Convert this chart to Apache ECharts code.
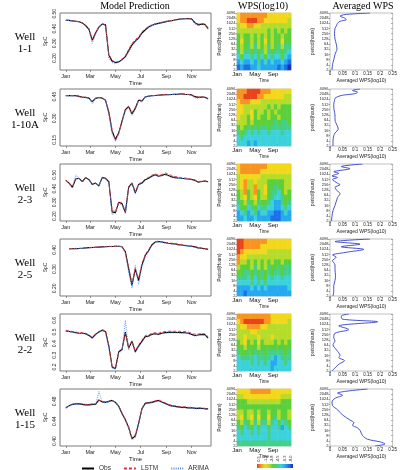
<!DOCTYPE html>
<html>
<head>
<meta charset="utf-8">
<script src="https://cdn.jsdelivr.net/npm/echarts@6/dist/echarts.min.js"></script>
<style>html,body{margin:0;padding:0;background:#fff}#main{width:400px;height:470px}</style>
</head>
<body>
<div id="main"></div>
<script>
var wells = ['1-1', '1-10A', '2-3', '2-5', '2-2', '1-15'];
// day of year for the SpC samples
var days = [0,8,16,24,32,40,48,56,64,72,80,88,96,104,112,120,128,136,144,152,160,168,176,184,192,200,208,216,224,232,240,248,256,264,272,280,288,296,304,312,320,328,336,344];
var monthTicks = [0, 59, 120, 181, 243, 304];
var monthNames = ['Jan', 'Mar', 'May', 'Jul', 'Sep', 'Nov'];

var obs = [
  [.456,.455,.452,.449,.446,.438,.42,.395,.32,.37,.41,.43,.425,.22,.18,.17,.175,.19,.21,.25,.29,.315,.335,.37,.39,.41,.42,.43,.435,.44,.445,.45,.453,.458,.462,.464,.466,.467,.465,.44,.425,.43,.428,.40],
  [.457,.457,.456,.457,.452,.446,.445,.44,.415,.438,.444,.44,.425,.34,.21,.155,.2,.28,.36,.38,.33,.37,.425,.42,.448,.453,.456,.458,.46,.462,.463,.464,.465,.466,.466,.47,.466,.465,.462,.45,.445,.448,.446,.435],
  [.46,.44,.41,.47,.475,.45,.48,.465,.43,.44,.42,.48,.475,.45,.23,.225,.3,.29,.225,.41,.44,.37,.43,.44,.465,.475,.49,.5,.49,.495,.505,.495,.485,.48,.477,.475,.472,.47,.466,.46,.447,.452,.455,.45],
  [null,.405,.405,.406,.407,.408,.41,.411,.412,.413,.414,.415,.416,.417,.417,.418,.418,.416,.39,.3,.215,.3,.24,.32,.37,.395,.425,.44,.443,.44,.437,.434,.432,.43,.427,.425,.422,.42,.418,.415,.41,.408,.405,.402],
  [.51,.505,.5,.495,.49,.49,.485,.47,.45,.48,.5,.515,.505,.38,.2,.185,.33,.35,.5,.36,.42,.33,.38,.42,.46,.465,.48,.485,.48,.49,.495,.497,.497,.497,.496,.495,.494,.49,.48,.47,.475,.48,.478,.45],
  [.467,.471,.474,.475,.475,.474,.473,.473,.474,.474,.483,.479,.478,.48,.482,.478,.47,.455,.443,.427,.405,.41,.435,.465,.476,.477,.478,.48,.482,.479,.476,.473,.471,.47,.469,.468,.468,.467,.467,.466,.466,.466,.465,.465]
];
var lstm = [
  [.458,.456,.453,.45,.447,.44,.423,.40,.33,.372,.412,.432,.427,.23,.185,.172,.178,.195,.218,.26,.3,.325,.345,.378,.398,.415,.425,.433,.438,.443,.448,.452,.455,.46,.463,.465,.467,.468,.466,.445,.43,.433,.43,.405],
  [.458,.458,.457,.458,.453,.447,.446,.441,.418,.439,.445,.441,.427,.35,.22,.145,.195,.285,.365,.385,.34,.375,.428,.424,.45,.455,.457,.459,.461,.463,.464,.465,.466,.467,.467,.468,.467,.466,.463,.452,.447,.449,.447,.437],
  [.462,.442,.415,.472,.477,.452,.482,.467,.433,.442,.423,.482,.477,.452,.24,.232,.305,.295,.235,.415,.442,.375,.435,.445,.47,.482,.497,.508,.498,.503,.515,.505,.495,.488,.484,.48,.477,.474,.469,.463,.45,.454,.457,.452],
  [null,.406,.406,.407,.408,.409,.411,.412,.413,.414,.415,.416,.417,.418,.418,.419,.419,.417,.385,.31,.225,.305,.25,.33,.375,.4,.428,.442,.445,.442,.439,.436,.434,.432,.429,.427,.424,.422,.42,.417,.412,.41,.407,.404],
  [.515,.51,.505,.5,.495,.495,.49,.475,.455,.485,.505,.52,.51,.39,.205,.19,.335,.355,.49,.37,.425,.34,.39,.43,.47,.475,.49,.495,.49,.5,.505,.507,.507,.507,.506,.505,.504,.5,.49,.48,.483,.487,.485,.46],
  [.466,.471,.474,.476,.476,.475,.474,.474,.475,.475,.482,.48,.479,.48,.482,.479,.471,.457,.444,.429,.407,.413,.437,.466,.477,.478,.479,.481,.483,.48,.477,.474,.472,.471,.47,.469,.469,.468,.468,.467,.467,.467,.466,.466]
];
var arima = [
  [.455,.454,.451,.447,.444,.435,.415,.39,.30,.36,.405,.428,.42,.2,.17,.165,.17,.185,.205,.24,.28,.31,.33,.365,.385,.405,.418,.428,.433,.439,.444,.449,.452,.457,.461,.463,.465,.466,.463,.43,.42,.427,.425,.395],
  [.456,.456,.455,.456,.45,.444,.443,.438,.40,.436,.442,.438,.422,.33,.19,.14,.19,.27,.35,.375,.32,.36,.42,.41,.446,.452,.455,.457,.459,.461,.462,.463,.464,.465,.465,.472,.465,.464,.46,.44,.44,.446,.444,.43],
  [.458,.436,.40,.5,.47,.445,.476,.46,.425,.436,.415,.476,.47,.44,.21,.22,.295,.28,.22,.4,.435,.36,.425,.435,.46,.472,.487,.498,.488,.492,.5,.492,.482,.478,.475,.473,.47,.468,.464,.458,.444,.45,.453,.448],
  [null,.404,.404,.405,.406,.407,.409,.41,.411,.412,.413,.414,.415,.416,.416,.417,.417,.414,.38,.28,.2,.32,.22,.31,.36,.39,.42,.438,.441,.438,.435,.432,.43,.428,.425,.423,.42,.418,.416,.413,.408,.406,.403,.4],
  [.508,.503,.498,.493,.487,.487,.482,.465,.44,.475,.497,.51,.5,.36,.19,.18,.32,.34,.6,.35,.41,.32,.37,.41,.455,.46,.476,.481,.476,.486,.491,.493,.493,.493,.492,.491,.49,.486,.475,.465,.47,.476,.474,.44],
  [.468,.47,.473,.474,.474,.473,.472,.472,.473,.473,.5,.478,.477,.479,.481,.477,.469,.454,.441,.425,.402,.407,.433,.463,.475,.476,.477,.479,.481,.478,.475,.472,.47,.469,.468,.467,.467,.466,.466,.465,.465,.465,.464,.464]
];
var spcRange = [[0.12, 0.505], [0.108, 0.503], [0.164, 0.579], [0.16, 0.456], [0.165, 0.655], [0.39, 0.505]];
var spcTicks = [[0.2, 0.3, 0.4, 0.5], [0.15, 0.3, 0.45], [0.2, 0.3, 0.4, 0.5], [0.2, 0.3, 0.4], [0.2, 0.3, 0.4, 0.5, 0.6], [0.40, 0.44, 0.48]];
var spcDecimals = [2, 2, 2, 2, 1, 2];

// wavelet power, colour level 0 (-8.0) .. 9 (0.5); rows listed from period 4096 down to 2
var heatCols = [0,1,2,3,4,5,6,7,8,9,10,11,12,13,14,15];
var heatRows = [0,1,2,3,4,5,6,7,8,9,10];
var wps = [
  [[7,8,8,8,8,8,8,8,8,7,7,7,7,7,7,7],[7,8,8,9,9,9,8,8,7,7,7,7,7,7,7,6],[6,7,7,8,8,7,7,6,6,6,6,6,6,6,6,6],[6,6,6,6,6,6,6,6,6,5,6,5,6,5,6,5],[5,6,5,5,6,5,6,5,6,5,6,5,5,6,5,5],[5,7,5,5,6,5,6,5,7,5,6,5,5,7,5,5],[5,6,5,4,6,4,6,5,6,4,6,5,4,6,4,4],[4,6,4,4,5,4,5,4,6,4,5,4,4,5,4,3],[3,5,3,3,4,3,5,3,5,3,4,3,3,5,3,2],[2,3,2,2,3,2,4,2,3,2,3,2,2,3,2,1],[1,2,1,1,2,2,3,2,2,2,2,2,1,2,1,0]],
  [[8,8,8,9,9,9,9,8,8,8,7,7,7,7,7,7],[8,8,9,9,9,9,8,8,7,7,7,7,7,7,6,6],[7,8,8,8,7,7,7,6,6,6,6,6,6,6,6,6],[7,7,6,6,6,6,6,6,6,5,6,5,6,5,5,5],[7,7,6,6,7,5,6,6,5,6,5,6,5,5,5,5],[7,6,6,5,7,5,6,5,5,6,5,5,6,5,5,5],[6,6,6,5,6,5,5,5,5,5,5,4,5,4,4,5],[5,6,5,4,5,4,5,4,4,5,4,4,4,4,4,4],[4,5,4,3,4,3,4,3,3,4,3,3,3,4,3,3],[3,4,3,3,3,3,3,3,3,3,3,3,3,3,3,3],[3,3,3,2,3,2,3,3,3,3,3,3,3,3,3,3]],
  [[7,8,8,8,8,8,8,8,8,7,7,7,7,7,7,7],[7,8,8,8,8,8,8,7,7,7,7,7,7,7,7,7],[6,7,7,7,7,7,7,6,6,6,6,6,6,6,6,6],[6,7,8,6,6,7,6,6,6,5,5,5,5,5,6,6],[6,7,8,6,6,8,6,6,7,5,5,4,5,5,6,6],[5,6,8,5,6,8,5,6,7,5,4,4,3,5,6,5],[5,6,7,5,6,7,5,6,6,5,4,3,3,4,5,5],[4,5,6,4,5,6,4,5,5,4,3,2,2,4,5,4],[3,5,5,3,4,5,3,4,4,3,3,2,2,3,4,3],[2,3,4,2,3,4,2,3,3,2,2,1,1,2,3,2],[2,2,3,2,2,3,2,2,2,2,1,1,1,2,2,2]],
  [[9,9,8,8,8,8,8,8,8,7,7,7,7,7,7,7],[9,9,8,8,8,8,8,7,7,7,7,7,7,7,7,7],[9,8,7,7,7,7,7,7,7,6,6,6,6,6,6,6],[8,7,7,6,6,6,6,6,6,6,6,6,6,6,6,6],[8,6,6,5,6,5,6,5,6,5,6,5,5,6,5,5],[6,5,5,5,6,4,6,5,6,4,5,5,4,5,4,4],[5,5,4,4,5,4,5,4,5,4,5,4,4,5,4,4],[4,4,4,3,5,3,5,4,5,3,4,3,3,4,3,3],[3,3,3,3,4,3,4,3,4,3,3,3,3,3,3,3],[2,2,2,2,3,2,3,2,3,2,2,2,2,2,2,3],[2,2,1,2,2,2,2,2,2,2,2,2,2,2,2,2]],
  [[8,8,8,8,8,8,8,8,8,8,7,7,7,7,7,7],[7,8,9,9,9,9,9,9,8,8,7,7,7,7,7,6],[6,7,7,8,8,8,8,7,7,6,6,6,6,6,6,6],[6,6,6,6,7,7,6,6,6,6,6,6,6,6,6,6],[6,6,7,6,6,6,7,6,6,6,7,6,6,6,6,6],[5,6,7,5,6,5,7,5,6,6,6,5,6,5,6,5],[5,5,6,5,5,5,6,5,5,5,5,5,5,5,5,5],[4,5,5,4,5,4,5,4,5,4,4,4,4,4,5,4],[3,4,4,4,4,3,4,4,4,4,3,2,3,4,4,4],[3,3,3,3,4,3,4,3,4,3,2,2,3,3,4,3],[3,3,3,3,3,3,3,3,3,3,2,3,3,3,3,3]],
  [[7,7,7,7,8,8,8,8,8,8,7,7,7,7,7,7],[6,6,7,7,7,7,7,7,7,7,7,7,7,6,6,6],[5,5,5,6,6,6,6,6,6,6,6,6,6,5,5,5],[5,5,5,5,5,5,5,5,5,5,5,5,5,5,5,5],[6,6,5,6,6,5,6,5,5,6,5,5,6,5,5,6],[6,7,5,6,7,5,7,5,5,7,5,4,6,5,5,6],[5,6,4,5,6,4,6,4,4,6,4,3,5,3,4,5],[4,5,3,4,5,3,5,3,3,5,3,3,4,2,3,4],[3,4,3,3,4,3,4,3,3,4,3,3,3,3,3,3],[3,3,3,3,3,3,3,3,3,4,3,3,3,3,3,3],[4,4,4,4,4,4,4,4,4,4,4,4,4,4,4,4]]
];
var wpsColors = ['#1a2fbf','#1f6fe8','#27a9f0','#3cd2dc','#45cf8a','#5ccf3c','#b5dc2a','#f2d81c','#f89420','#e8431a'];
var colorbarLabels = ['0.5', '-1.2', '-2.8', '-4.5', '-6.3', '-8.0'];

// averaged wavelet power: log2(period) and value
var avgPeriod = [
  [12,11.7,11.4,11,10.7,10.4,10,9.5,9,8,7,6,5,4.5,4,3,2,1],
  [12,11.7,11.4,11.1,10.8,10.5,10.2,9.8,9,8,7,6,5,4.3,3.5,3,2,1],
  [12,11.5,11.1,10.5,10.2,9.7,9.4,9,8.3,8,7.5,7,6.3,5.5,4,3,2,1],
  [12,11.5,11,10.5,10,9.4,8.9,8.5,7.8,7,6,5,4,3,2,1],
  [12,11.6,11,10.5,9.7,9,8.3,7.4,6.8,6.1,5,4,3.6,3,2.3,1.6,1],
  [12,11.2,10.8,10.2,9.5,8.8,8,7,6,5.5,5,4.5,4,3,2.3,1.8,1.4,1]
];
var avgWps = [
  [.16,.06,.04,.06,.065,.04,.03,.025,.02,.018,.02,.025,.028,.024,.02,.015,.01,.008],
  [.12,.09,.11,.1,.05,.03,.02,.018,.015,.016,.02,.02,.028,.033,.02,.015,.012,.012],
  [.13,.045,.08,.015,.035,.008,.03,.01,.03,.04,.02,.025,.04,.03,.02,.012,.008,.006],
  [.16,.02,.12,.045,.135,.06,.01,.025,.01,.02,.02,.022,.02,.015,.015,.012],
  [.075,.045,.05,.19,.035,.075,.02,.015,.02,.012,.027,.04,.035,.058,.035,.02,.008],
  [.15,.03,.05,.02,.008,.01,.03,.05,.08,.095,.09,.11,.12,.13,.15,.2,.22,.18]
];

var serif = '"Liberation Serif","DejaVu Serif",serif';
var sans = '"Liberation Sans","DejaVu Sans",Arial,sans-serif';
var rowTop = [13, 89, 164, 239, 314, 389];
var rowH = 57;

var grids = [], xAxes = [], yAxes = [], series = [], graphics = [], heatIdx = [];

function lbl(size, extra) {
  var o = {fontSize: size, color: '#222', fontFamily: sans, margin: 2};
  for (var k in extra) o[k] = extra[k];
  return o;
}

wells.forEach(function (w, i) {
  var top = rowTop[i];
  graphics.push({type: 'text', x: 25, y: top + 30, style: {text: 'Well\n' + w, align: 'center', verticalAlign: 'middle',
    fontFamily: serif, fontSize: 11, lineHeight: 12, fill: '#000'}});

  // ---- model prediction ----
  var g = grids.length;
  grids.push({left: 60, top: top, width: 151, height: rowH, show: true, borderColor: '#7a7a7a', borderWidth: 1});
  var xi = xAxes.length, yi = yAxes.length;
  xAxes.push({gridIndex: g, type: 'value', min: -14, max: 351, position: 'bottom',
    axisLine: {show: false}, splitLine: {show: false},
    axisTick: {customValues: monthTicks, length: 2, lineStyle: {color: '#555', width: 0.6}},
    axisLabel: lbl(5.5, {customValues: monthTicks, margin: 3, formatter: function (v) { return monthNames[monthTicks.indexOf(v)]; }}),
    name: 'Time', nameLocation: 'middle', nameGap: 10, nameTextStyle: {fontSize: 6, color: '#222', fontFamily: sans}});
  var ticks = spcTicks[i], dec = spcDecimals[i];
  yAxes.push({gridIndex: g, type: 'value', min: spcRange[i][0], max: spcRange[i][1], position: 'left',
    axisLine: {show: false}, splitLine: {show: false}, axisTick: {show: false},
    axisLabel: lbl(5, {customValues: ticks, rotate: 90, margin: 3, formatter: function (v) { return v.toFixed(dec); }}),
    name: 'SpC', nameLocation: 'middle', nameGap: 12, nameRotate: 90, nameTextStyle: {fontSize: 5, color: '#222', fontFamily: sans}});
  [['Obs', obs[i], '#000000', 'solid', 1.1], ['LSTM', lstm[i], '#e0303c', [3, 2], 0.9], ['ARIMA', arima[i], '#4d8fe6', [1, 1.2], 0.9]].forEach(function (s) {
    var pts = [];
    days.forEach(function (d, k) { if (s[1][k] != null) pts.push([d, s[1][k]]); });
    series.push({type: 'line', name: s[0], xAxisIndex: xi, yAxisIndex: yi, data: pts, symbol: 'none',
      lineStyle: {color: s[2], type: s[3], width: s[4]}, itemStyle: {color: s[2]}});
  });

  // ---- wavelet power spectrum ----
  g = grids.length;
  grids.push({left: 237, top: top, width: 54, height: rowH, show: true, borderColor: '#999', borderWidth: 0.5});
  var cx = xAxes.length;
  xAxes.push({gridIndex: g, type: 'category', data: heatCols, show: false, position: 'top'});
  xAxes.push({gridIndex: g, type: 'value', min: 0, max: 12, position: 'bottom',
    axisLine: {show: false}, splitLine: {show: false},
    axisTick: {customValues: [1.5, 3, 4.5, 6, 7.5, 9, 10.5], inside: true, length: 2.5, lineStyle: {color: '#000', width: 1}},
    axisLabel: lbl(6, {customValues: [0, 4, 8], margin: 1.5, color: '#111', formatter: function (v) { return ['Jan', 'May', 'Sep'][v / 4]; }}),
    name: 'Time', nameLocation: 'middle', nameGap: 7, nameTextStyle: {fontSize: 4.5, color: '#222', fontFamily: sans}});
  var cy = yAxes.length;
  yAxes.push({gridIndex: g, type: 'category', data: heatRows, show: false, position: 'right'});
  yAxes.push({gridIndex: g, type: 'value', min: 1, max: 12, interval: 1, position: 'left',
    axisLine: {show: false}, splitLine: {show: false},
    axisTick: {length: 1.5, lineStyle: {color: '#555', width: 0.5}},
    axisLabel: lbl(4, {margin: 1.5, formatter: function (v) { return String(Math.pow(2, v)); }}),
    name: 'Period(Hours)', nameLocation: 'middle', nameGap: 11, nameRotate: 90, nameTextStyle: {fontSize: 4.5, color: '#222', fontFamily: sans}});
  var cells = [];
  wps[i].forEach(function (row, r) {
    row.forEach(function (v, c) { cells.push([c, heatRows.length - 1 - r, v]); });
  });
  heatIdx.push(series.length);
  series.push({type: 'heatmap', xAxisIndex: cx, yAxisIndex: cy, data: cells, itemStyle: {borderWidth: 0}, emphasis: {disabled: true}});

  // ---- averaged WPS ----
  g = grids.length;
  grids.push({left: 330, top: top, width: 66, height: rowH, show: true, borderColor: '#999', borderWidth: 0.6});
  var ax = xAxes.length;
  xAxes.push({gridIndex: g, type: 'value', min: 0, max: 0.25, interval: 0.05, position: 'bottom',
    axisLine: {show: false}, splitLine: {show: false},
    axisTick: {length: 1.5, lineStyle: {color: '#555', width: 0.5}},
    axisLabel: lbl(4.5, {margin: 1.5, formatter: function (v) { return v === 0 ? '0' : String(+v.toFixed(2)); }}),
    name: 'Averaged WPS(log10)', nameLocation: 'middle', nameGap: 8, nameTextStyle: {fontSize: 5, color: '#222', fontFamily: sans}});
  var ay = yAxes.length;
  yAxes.push({gridIndex: g, type: 'value', min: 1, max: 12, interval: 1, position: 'left',
    axisLine: {show: false}, splitLine: {show: false},
    axisTick: {length: 1.5, lineStyle: {color: '#555', width: 0.5}},
    axisLabel: lbl(4, {margin: 1.5, formatter: function (v) { return String(Math.pow(2, v)); }}),
    name: 'period(hours)', nameLocation: 'middle', nameGap: 11, nameRotate: 90, nameTextStyle: {fontSize: 4.5, color: '#222', fontFamily: sans}});
  yAxes.push({gridIndex: g, type: 'value', min: 1, max: 12, interval: 1, position: 'right',
    axisLine: {show: false}, splitLine: {show: false}, axisLabel: {show: false},
    axisTick: {inside: true, length: 1.5, lineStyle: {color: '#555', width: 0.5}}});
  var line = avgPeriod[i].map(function (p, k) { return [avgWps[i][k], p]; });
  series.push({type: 'line', name: 'avg', xAxisIndex: ax, yAxisIndex: ay, data: line, symbol: 'none', smooth: 0.3,
    lineStyle: {color: '#3340c8', width: 0.9}});
});

// column titles
[['Model Prediction', 135], ['WPS(log10)', 263], ['Averaged WPS', 363]].forEach(function (t) {
  graphics.push({type: 'text', x: t[1], y: 6, style: {text: t[0], align: 'center', verticalAlign: 'middle',
    fontFamily: serif, fontSize: 10, fill: '#000'}});
});

// colour bar under the last spectrum
var stops = wpsColors.slice().reverse().map(function (c, k) { return {offset: k / (wpsColors.length - 1), color: c}; });
graphics.push({type: 'rect', shape: {x: 257, y: 464, width: 36, height: 4},
  style: {fill: new echarts.graphic.LinearGradient(0, 0, 1, 0, stops)}});
colorbarLabels.forEach(function (t, k) {
  graphics.push({type: 'text', x: 259 + k * 6.4, y: 459, rotation: Math.PI / 2,
    style: {text: t, align: 'center', verticalAlign: 'middle', fontFamily: sans, fontSize: 4, fill: '#222'}});
});

var chart = echarts.init(document.getElementById('main'));
chart.setOption({
  animation: false,
  backgroundColor: '#fff',
  grid: grids,
  xAxis: xAxes,
  yAxis: yAxes,
  series: series,
  visualMap: {type: 'continuous', min: 0, max: 9, show: false, seriesIndex: heatIdx, inRange: {color: wpsColors}},
  legend: {data: ['Obs', 'LSTM', 'ARIMA'], left: 76, top: 460, itemWidth: 12, itemHeight: 6, itemGap: 12,
    selectedMode: false, itemStyle: {opacity: 0}, textStyle: {fontSize: 6.5, color: '#333', fontFamily: sans}},
  graphic: graphics
});
</script>
</body>
</html>
